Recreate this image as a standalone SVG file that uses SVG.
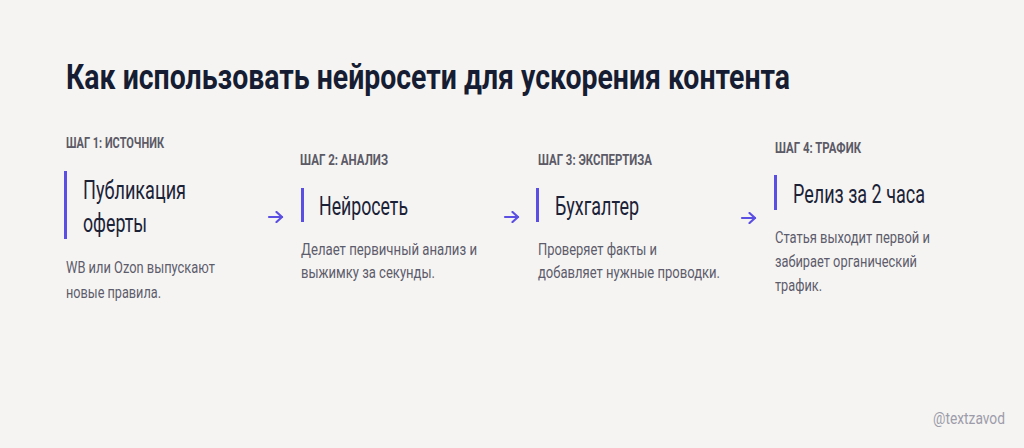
<svg xmlns="http://www.w3.org/2000/svg" width="1024" height="448" viewBox="0 0 1024 448">
<defs>
<style>
.bg{fill:#f5f4f2}
.title{font-family:Roboto,"Liberation Sans",sans-serif;font-weight:700;font-size:35px;fill:#161d33}
.lbl{font-family:Roboto,"Liberation Sans",sans-serif;font-weight:700;font-size:14px;fill:#5b5a66}
.head{font-family:Roboto,"Liberation Sans",sans-serif;font-weight:400;font-size:26px;fill:#1b2237}
.desc{font-family:Roboto,"Liberation Sans",sans-serif;font-weight:400;font-size:17px;fill:#5d5c6c}
.bar{fill:#5b4fe3}
.wm{font-family:Roboto,"Liberation Sans",sans-serif;font-weight:400;font-size:17px;fill:#9d9cab}
.conn{stroke:#5b4fe3;stroke-width:2.2;fill:none;stroke-linecap:round;stroke-linejoin:round}
</style>
<marker id="ah" viewBox="0 0 10 12" refX="8" refY="6" markerWidth="10" markerHeight="12" markerUnits="userSpaceOnUse" orient="auto">
<path d="M2.5,1 L8,6 L2.5,11" fill="none" stroke="#5b4fe3" stroke-width="2.2" stroke-linecap="round" stroke-linejoin="round"/>
</marker>
</defs>
<rect class="bg" x="0" y="0" width="1024" height="448"/>
<text class="title" x="66" y="89" textLength="724" lengthAdjust="spacingAndGlyphs">Как использовать нейросети для ускорения контента</text>

<g id="step1">
<text class="lbl" x="66" y="148" textLength="98" lengthAdjust="spacingAndGlyphs">ШАГ 1: ИСТОЧНИК</text>
<rect class="bar" x="64" y="171" width="3" height="68"/>
<text class="head" x="83" y="199" textLength="103" lengthAdjust="spacingAndGlyphs">Публикация</text>
<text class="head" x="83" y="232" textLength="64" lengthAdjust="spacingAndGlyphs">оферты</text>
<text class="desc" x="66" y="273" textLength="149" lengthAdjust="spacingAndGlyphs">WB или Ozon выпускают</text>
<text class="desc" x="66" y="298" textLength="95" lengthAdjust="spacingAndGlyphs">новые правила.</text>
</g>

<g id="step2">
<text class="lbl" x="300" y="165" textLength="88" lengthAdjust="spacingAndGlyphs">ШАГ 2: АНАЛИЗ</text>
<rect class="bar" x="301" y="188" width="3" height="34"/>
<text class="head" x="319" y="215" textLength="89" lengthAdjust="spacingAndGlyphs">Нейросеть</text>
<text class="desc" x="301" y="255" textLength="176" lengthAdjust="spacingAndGlyphs">Делает первичный анализ и</text>
<text class="desc" x="301" y="278" textLength="134" lengthAdjust="spacingAndGlyphs">выжимку за секунды.</text>
</g>

<g id="step3">
<text class="lbl" x="538" y="165" textLength="114" lengthAdjust="spacingAndGlyphs">ШАГ 3: ЭКСПЕРТИЗА</text>
<rect class="bar" x="536" y="188" width="3" height="34"/>
<text class="head" x="555" y="215" textLength="84" lengthAdjust="spacingAndGlyphs">Бухгалтер</text>
<text class="desc" x="538" y="255" textLength="119" lengthAdjust="spacingAndGlyphs">Проверяет факты и</text>
<text class="desc" x="538" y="278" textLength="182" lengthAdjust="spacingAndGlyphs">добавляет нужные проводки.</text>
</g>

<g id="step4">
<text class="lbl" x="775" y="153" textLength="86" lengthAdjust="spacingAndGlyphs">ШАГ 4: ТРАФИК</text>
<rect class="bar" x="774" y="175" width="3" height="35"/>
<text class="head" x="793" y="203" textLength="132" lengthAdjust="spacingAndGlyphs">Релиз за 2 часа</text>
<text class="desc" x="775" y="243" textLength="155" lengthAdjust="spacingAndGlyphs">Статья выходит первой и</text>
<text class="desc" x="775" y="267" textLength="142" lengthAdjust="spacingAndGlyphs">забирает органический</text>
<text class="desc" x="775" y="291" textLength="47" lengthAdjust="spacingAndGlyphs">трафик.</text>
</g>

<g id="connectors">
<path class="conn" d="M269,217 H282" marker-end="url(#ah)"/>
<path class="conn" d="M505,217 H518" marker-end="url(#ah)"/>
<path class="conn" d="M742,218 H755" marker-end="url(#ah)"/>
</g>

<text class="wm" x="933" y="424" textLength="72" lengthAdjust="spacingAndGlyphs">@textzavod</text>
</svg>
